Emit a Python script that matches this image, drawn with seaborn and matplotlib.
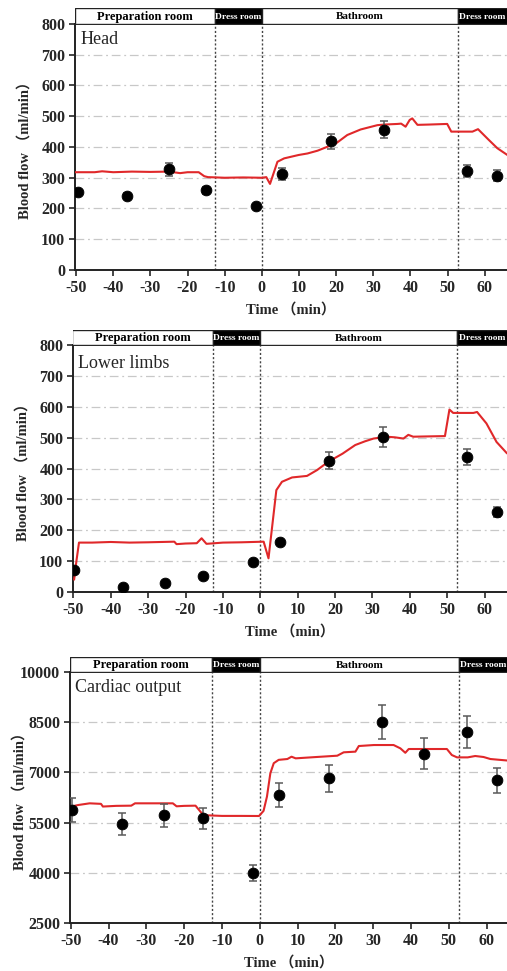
import numpy as np
import pandas as pd
import seaborn as sns
import matplotlib.pyplot as plt

# rooms along the time axis (min)
room_names = ['Preparation room', 'Dress room', 'Bathroom', 'Dress room']
room_edges = [-50.3, -12.7, 0.0, 52.7, 72.0]
room_dark = [False, True, False, True]
room_fsize = [9, 6.8, 8, 6.8]

# Head
head_line_t = [-50.3, -45, -43, -40, -35, -30, -25, -22, -20, -17, -15.5, -14.5, -10, -5, 0,
               1.2, 2.2, 4.2, 6.0, 9.9, 12.3, 15, 17.7, 20, 23, 26.6, 31.1, 33, 36.5, 37.5,
               38.7, 39.8, 40.5, 41.9, 45, 49.9, 51.0, 54, 56.7, 58.2, 61.1, 63.4, 66.1]
head_line_v = [318, 318, 321, 318, 320, 319, 320, 315, 318, 318, 305, 302, 300, 301, 300,
               302, 280, 352, 363, 374, 379, 388, 401, 412, 439, 457, 471, 473, 475, 476,
               466, 488, 493, 472, 473, 475, 450, 450, 450, 458, 423, 396, 374]
head_pt_t = [-49.4, -36.2, -25.0, -14.9, -1.6, 5.4, 18.7, 32.9, 55.3, 63.4]
head_pt_v = [254, 242, 327, 259, 208, 312, 418, 456, 322, 307]
head_pt_err = [0, 10, 20, 12, 5, 20, 25, 28, 21, 19]

# Lower limbs
legs_line_t = [-49.8, -49.3, -48.5, -45, -40, -35, -30, -23, -22.4, -20, -17, -15.7, -14.4,
               -10, -5, 0.9, 2.2, 4.3, 5.8, 8.5, 12.5, 15.2, 18.2, 22, 25.4, 28, 30.3, 33.8,
               36, 38.3, 39.6, 40.9, 45, 49.4, 50.6, 51.6, 57, 58, 60.5, 63.2, 66]
legs_line_v = [40, 90, 160, 160, 162, 160, 161, 163, 155, 157, 158, 174, 156,
               160, 161, 163, 109, 330, 357, 371, 376, 395, 422, 448, 476, 488, 497, 503,
               501, 497, 509, 503, 504, 505, 591, 580, 580, 583, 546, 486, 449]
legs_pt_t = [-49.8, -36.6, -25.4, -15.2, -2.0, 5.2, 18.5, 32.7, 55.2, 63.3]
legs_pt_v = [71, 16, 29, 53, 98, 163, 425, 502, 437, 259]
legs_pt_err = [0, 0, 0, 0, 0, 0, 27, 32, 27, 15]

# Cardiac output
co_line_t = [-50, -48, -45, -42, -41.5, -38, -34, -33, -28, -23, -22, -20, -17, -15.5, -14.5,
             -10, -5, -0.2, 1.0, 1.9, 2.8, 3.7, 5.0, 7.3, 8.4, 9.5, 15, 20.5, 22.2, 25.3, 26.2,
             30.2, 35.4, 37.2, 38.5, 39.4, 45, 49.5, 50.8, 52.2, 55, 57, 59.2, 61, 66]
co_line_v = [5977, 6026, 6076, 6060, 5980, 6000, 6006, 6076, 6076, 6076, 5987, 6000, 6006,
             5800, 5720, 5700, 5700, 5697, 5850, 6276, 6975, 7275, 7375, 7400, 7469, 7420,
             7460, 7499, 7600, 7620, 7788, 7818, 7818, 7718, 7586, 7699, 7699, 7699, 7519,
             7449, 7449, 7490, 7460, 7400, 7350]
co_pt_t = [-49.6, -36.4, -25.4, -15.1, -1.9, 5.1, 18.2, 32.4, 43.5, 54.8, 62.8]
co_pt_v = [5877, 5457, 5717, 5627, 3998, 6326, 6826, 8504, 7555, 8214, 6766]
co_pt_err = [350, 320, 340, 320, 230, 370, 410, 520, 460, 470, 380]

x_ticks = list(range(-50, 61, 10))
flow_ticks = [0, 100, 200, 300, 400, 500, 600, 700, 800]
co_ticks = [2500, 4000, 5500, 7000, 8500, 10000]

sns.set_style('white')
SERIF = ['Liberation Serif', 'Noto Sans CJK SC']
plt.rcParams['font.family'] = SERIF
plt.rcParams['axes.unicode_minus'] = False

RED = '#e0282a'


def draw_panel(fig, rect, head_h, line_t, line_v, pt_t, pt_v, pt_err,
               yticks, label, label_y, xlim):
    ax = fig.add_axes(rect)
    hx = fig.add_axes([rect[0], rect[1] + rect[3], rect[2], head_h])

    # gridlines
    for yv in yticks[1:-1]:
        ax.axhline(yv, color='#c8c8c8', lw=0.9, ls=(0, (7, 3, 1.5, 3)), zorder=0)
    # room boundaries
    for e in room_edges[1:-1]:
        ax.axvline(e, color='#444444', lw=1.0, ls=(0, (1.5, 1.5)), zorder=1)

    line_df = pd.DataFrame({'t': line_t, 'v': line_v})
    sns.lineplot(data=line_df, x='t', y='v', ax=ax, color=RED, lw=1.5,
                 estimator=None, sort=False, zorder=3)
    ax.errorbar(pt_t, pt_v, yerr=pt_err, fmt='none', ecolor='#5a5a5a',
                elinewidth=1.1, capsize=3, capthick=1.1, zorder=4)
    pt_df = pd.DataFrame({'t': pt_t, 'v': pt_v})
    sns.scatterplot(data=pt_df, x='t', y='v', ax=ax, color='black', s=60,
                    edgecolor='black', zorder=5)

    ax.set_xlim(*xlim)
    ax.set_ylim(yticks[0], yticks[-1])
    ax.set_xticks(x_ticks)
    ax.set_yticks(yticks)
    ax.tick_params(axis='both', direction='out', length=4, width=1.2,
                   labelsize=11.5, pad=3, left=True, bottom=True)
    for lab in ax.get_xticklabels() + ax.get_yticklabels():
        lab.set_fontweight('bold')
    for side in ['left', 'bottom']:
        ax.spines[side].set_linewidth(1.4)
        ax.spines[side].set_color('#222222')
    ax.spines['right'].set_visible(False)
    ax.spines['top'].set_linewidth(1.4)
    ax.spines['top'].set_color('#222222')

    ax.set_xlabel('Time （min）', fontsize=10.5, fontweight='bold', labelpad=5)
    ax.set_ylabel('Blood flow （ml/min）', fontsize=10.5, fontweight='bold')
    ax.yaxis.set_label_coords(-0.10, 0.5)
    ax.text(0.012, label_y, label, transform=ax.transAxes, fontsize=13,
            va='center', ha='left', family=SERIF)

    # room header band
    lefts = room_edges[:-1]
    widths = np.diff(room_edges)
    colors = ['black' if d else 'white' for d in room_dark]
    hx.barh([0.5] * len(lefts), widths, left=lefts, height=1.0, color=colors,
            edgecolor='#222222', linewidth=1.0, align='center')
    for name, l, r, dark, fs in zip(room_names, room_edges[:-1], room_edges[1:],
                                    room_dark, room_fsize):
        mid = (l + min(r, xlim[1])) / 2
        hx.text(mid, 0.45, name, ha='center', va='center', fontsize=fs,
                fontweight='bold', color='white' if dark else 'black', clip_on=True)
    hx.set_xlim(*xlim)
    hx.set_ylim(0, 1)
    hx.axis('off')
    return ax


fig = plt.figure(figsize=(5.07, 9.71), dpi=100)
H = 971.0
W = 507.0

draw_panel(fig, [75 / W, 1 - 270 / H, 1 - 75 / W, 246 / H], 16 / H,
           head_line_t, head_line_v, head_pt_t, head_pt_v, head_pt_err,
           flow_ticks, 'Head', 0.935, (-50.3, 66.0))
draw_panel(fig, [73 / W, 1 - 592 / H, 1 - 73 / W, 247 / H], 15 / H,
           legs_line_t, legs_line_v, legs_pt_t, legs_pt_v, legs_pt_err,
           flow_ticks, 'Lower limbs', 0.925, (-50.1, 66.0))
draw_panel(fig, [70 / W, 1 - 923 / H, 1 - 70 / W, 251 / H], 15 / H,
           co_line_t, co_line_v, co_pt_t, co_pt_v, co_pt_err,
           co_ticks, 'Cardiac output', 0.94, (-50.2, 65.4))

fig.savefig('out.png', dpi=100)
